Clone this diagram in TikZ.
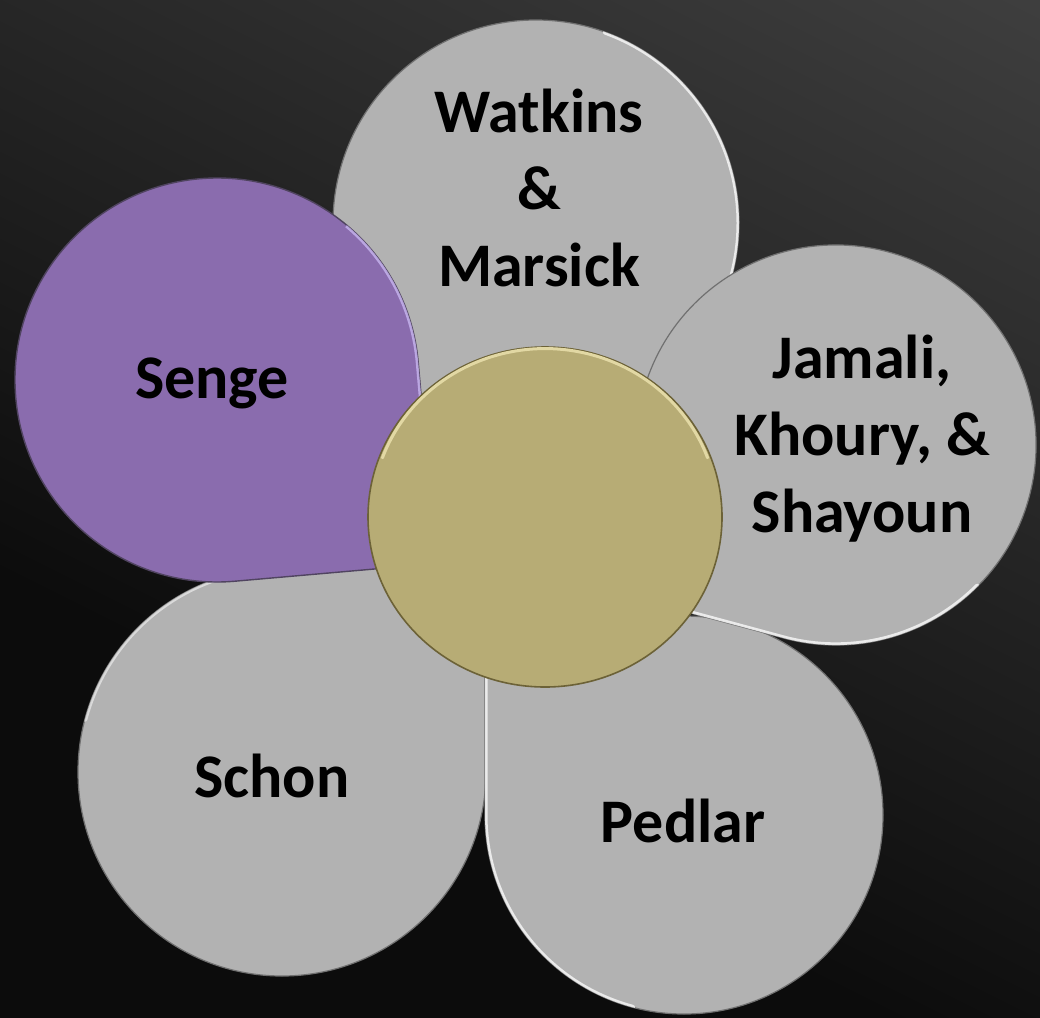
\documentclass[tikz,border=0pt]{standalone}
\usepackage{fontspec}
\setmainfont{Carlito}
\definecolor{petalfill}{RGB}{178,178,178}
\definecolor{petaledge}{RGB}{112,112,112}
\definecolor{petallight}{RGB}{245,245,245}
\definecolor{sengefill}{RGB}{138,108,174}
\definecolor{sengeedge}{RGB}{80,68,96}
\definecolor{sengelight}{RGB}{200,182,240}
\definecolor{corefill}{RGB}{183,172,117}
\definecolor{coreedge}{RGB}{108,98,55}
\definecolor{corelight}{RGB}{226,216,164}
% teardrop outline: #1 cx, #2 cy, #3 R, #4 corner direction (screen degrees, clockwise)
\newcommand\tdpath[4]{({#1+#3*cos(#4+45)},{#2+#3*sin(#4+45)})
    arc[start angle={#4+45}, end angle={#4+315}, radius=#3]
    -- ({#1+1.41421*#3*cos(#4)},{#2+1.41421*#3*sin(#4)}) -- cycle}
\tikzset{
  greypetal/.style={fill=petalfill, draw=petaledge, line width=1.2pt, line join=round},
  purplepetal/.style={fill=sengefill, draw=sengeedge, line width=1.4pt, line join=round},
  glint/.style={draw=petallight, line width=5pt, opacity=0.85, line cap=round, line join=round},
  label/.style={font=\fontsize{62}{77}\selectfont\bfseries, text=black, align=center, inner sep=0pt, anchor=base}
}
\begin{document}
\begin{tikzpicture}[x=1pt, y=-1pt]
\useasboundingbox (0,0) rectangle (1040,1017);
% background: dark diagonal gradient, lighter towards the top right
\begin{scope}
  \clip (0,0) rectangle (1040,1017);
  \fill[fill={rgb,255:red,62;green,62;blue,62}] (0,0) rectangle (1040,1017);
  \foreach \c in {23,22,...,-26} {
    \pgfmathtruncatemacro\v{38+\c}
    \fill[fill={rgb,255:red,\v;green,\v;blue,\v}]
      (0,{-21.74*\c}) -- (1040,{520-21.74*\c}) -- (1040,1200) -- (0,1200) -- cycle;
  }
\end{scope}
% Watkins petal
\path[greypetal] \tdpath{536}{223}{203}{95};
\begin{scope}
  \clip \tdpath{536}{223}{203}{95};
  \draw[glint] (536,223) ++(-70:203) arc[start angle=-70, end angle=30, radius=203];
\end{scope}
% Schon petal
\path[greypetal] \tdpath{282}{772}{204}{315};
\begin{scope}
  \clip \tdpath{282}{772}{204}{315};
  \draw[glint, opacity=0.6] (282,772) ++(195:204) arc[start angle=195, end angle=262, radius=204];
\end{scope}
% Pedlar petal
\path[greypetal] \tdpath{684}{815}{199}{225};
\begin{scope}
  \clip \tdpath{684}{815}{199}{225};
  \draw[glint] (485,616) -- (485,815) arc[start angle=180, end angle=105, radius=199];
\end{scope}
% Jamali petal
\path[greypetal] \tdpath{836}{445}{200}{150};
\begin{scope}
  \clip \tdpath{836}{445}{200}{150};
  \draw[glint] (591,586) -- (784,638) arc[start angle=105, end angle=45, radius=200];
\end{scope}
% Senge petal (highlighted)
\path[purplepetal] \tdpath{217}{380}{202}{40};
\begin{scope}
  \clip \tdpath{217}{380}{202}{40};
  \draw[sengelight, line width=5pt, opacity=0.8, line join=round] (217,380) ++(-50:202) arc[start angle=-50, end angle=-5, radius=202] -- (436,564);
\end{scope}
% centre disc
\fill[corefill, draw=coreedge, line width=1.6pt] (545,517) ellipse [x radius=177, y radius=170];
\draw[corelight, line width=3pt, line cap=round] (545,517) ++(200:173) arc[start angle=200, end angle=340, x radius=173, y radius=166];
% labels
\node[label] (watkins) at (539,286) {Watkins\\\&\\Marsick};
\node[label] (senge) at (212,398) {Senge};
\node[label] (jamali) at (862,532) {Jamali,\\Khoury, \&\\Shayoun};
\node[label] (schon) at (272,797) {Schon};
\node[label] (pedlar) at (683,842) {Pedlar};
\end{tikzpicture}
\end{document}
